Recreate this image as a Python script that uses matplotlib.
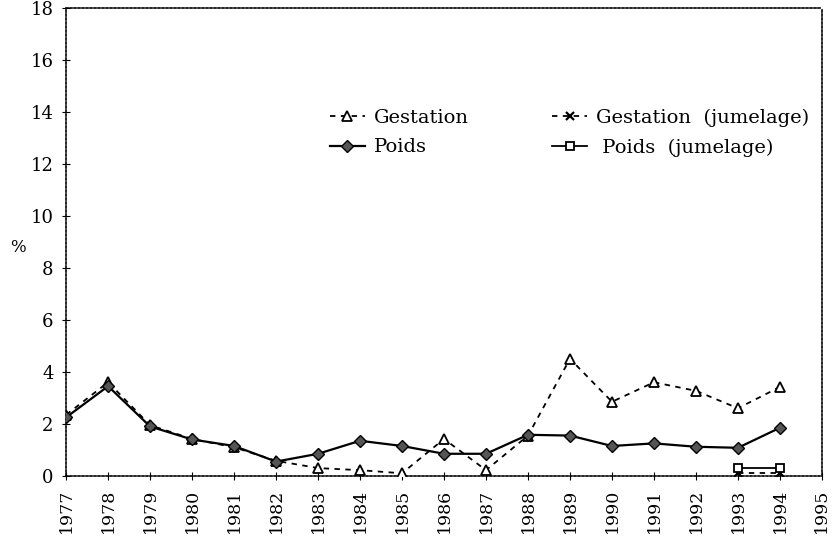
import matplotlib as mpl
import matplotlib.pyplot as plt

mpl.use('Agg')

plt.rcParams['font.family'] = ['DejaVu Serif']

years = list(range(1977, 1995))
gestation = [2.35, 3.6, 1.95, 1.42, 1.1, 0.58, 0.3, 0.22, 0.1, 1.42,
             0.22, 1.55, 4.5, 2.85, 3.6, 3.27, 2.6, 3.42]
poids = [2.25, 3.45, 1.9, 1.4, 1.15, 0.55, 0.85, 1.35, 1.15, 0.85,
         0.85, 1.58, 1.55, 1.15, 1.25, 1.12, 1.08, 1.85]
jum_years = [1993, 1994]
gestation_jum = [0.12, 0.12]
poids_jum = [0.3, 0.3]
xtick_years = list(range(1977, 1996))
yticks = list(range(0, 19, 2))

fig = plt.figure(figsize=(8.37, 5.54), dpi=100)
ax = fig.add_axes([0.079, 0.141, 0.903, 0.845])

# main series
ax.plot(years, gestation, linestyle=(0, (3, 3)), color='black', linewidth=1.3,
        marker='^', markersize=7, markerfacecolor='white', markeredgecolor='black',
        markeredgewidth=1.3, label='Gestation', zorder=3)
ax.plot(jum_years, gestation_jum, linestyle=(0, (3, 3)), color='black', linewidth=1.3,
        marker='x', markersize=6, markeredgewidth=1.6, label='Gestation  (jumelage)', zorder=3)
ax.plot(years, poids, linestyle='-', color='black', linewidth=1.6,
        marker='D', markersize=6, markerfacecolor='#555555', markeredgecolor='black',
        label='Poids', zorder=4)
ax.plot(jum_years, poids_jum, linestyle='-', color='black', linewidth=1.3,
        marker='s', markersize=6, markerfacecolor='white', markeredgecolor='black',
        markeredgewidth=1.3, label=' Poids  (jumelage)', zorder=4)

ax.set_xlim(1977, 1995)
ax.set_ylim(0, 18)
ax.set_xticks(xtick_years)
ax.set_xticklabels([str(y) for y in xtick_years], rotation=90, fontsize=12.5)
ax.set_yticks(yticks)
ax.set_yticklabels([str(v) for v in yticks], fontsize=13)
ax.tick_params(direction='inout', length=6, width=0.8, pad=6)

for side in ['left', 'right', 'top', 'bottom']:
    ax.spines[side].set_linestyle((0, (1.2, 1.2)))
    ax.spines[side].set_linewidth(1.2)

fig.text(0.022, 0.553, '%', fontsize=12, ha='center', va='center')

# legend in order: row 1 gestation pair, row 2 poids pair
handles, labels = ax.get_legend_handles_labels()
order = [0, 2, 1, 3]
ax.legend([handles[i] for i in order], [labels[i] for i in order],
          ncol=2, frameon=False, fontsize=14, loc='upper left',
          bbox_to_anchor=(0.349, 0.785), borderpad=0, borderaxespad=0,
          handlelength=1.8, columnspacing=4.3, labelspacing=0.6,
          handletextpad=0.45)

fig.savefig('out.png', dpi=100)
